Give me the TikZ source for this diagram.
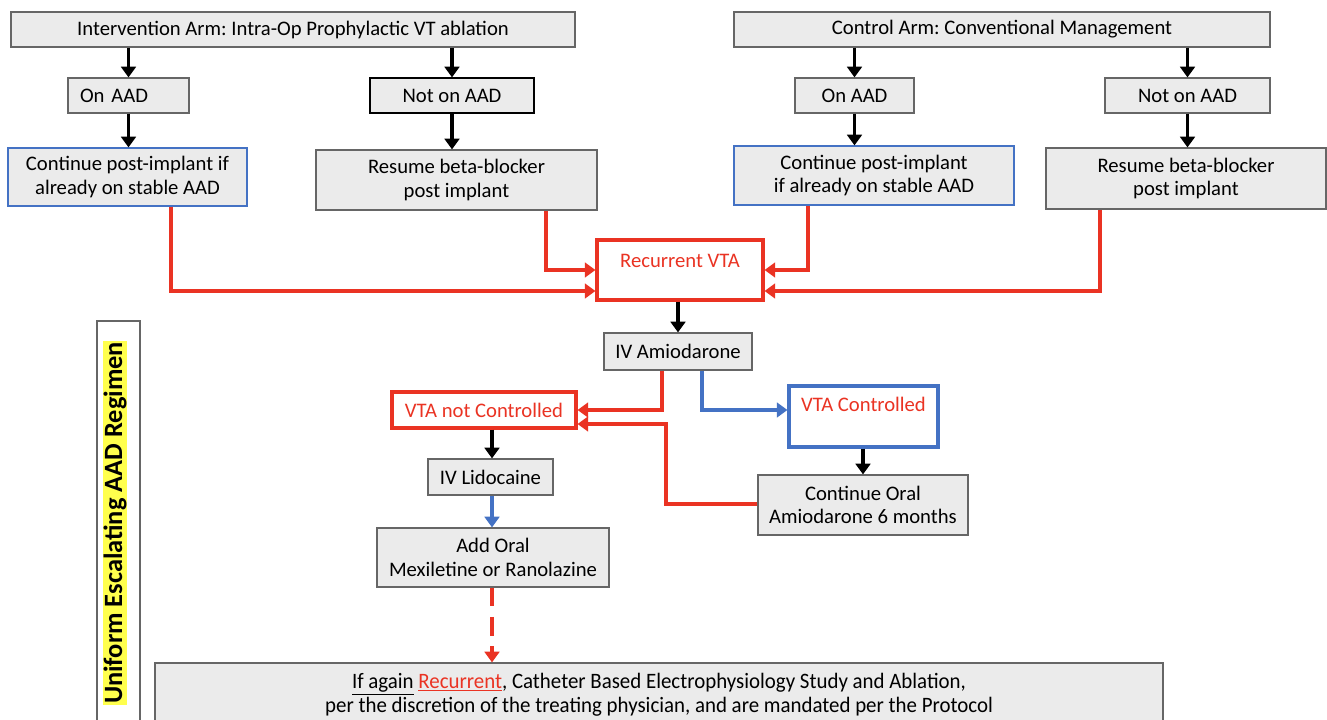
\documentclass[tikz,border=0pt]{standalone}
\usepackage{fontspec}
\setmainfont{Carlito}
\newfontfamily\condfont[FakeStretch=0.95]{Carlito}
\usetikzlibrary{arrows.meta,calc}
\frenchspacing
\definecolor{rd}{HTML}{EA3323}
\definecolor{bl}{HTML}{4472C4}
\definecolor{gf}{HTML}{EBEBEB}
\definecolor{gb}{HTML}{666666}
\definecolor{hl}{HTML}{FFFF4D}
\newcommand\bx[7]{\node[#2, minimum width={(#5-#3)*0.75pt}, minimum height={(#6-#4)*0.75pt}] (#1) at ({(#3+#5)/2},{(#4+#6)/2}) {#7};}
\tikzset{
  gbox/.style={draw=gb, fill=gf, line width=0.9pt, inner sep=0pt, align=center, font=\fontsize{15.5}{17.5}\selectfont},
  bbox/.style={gbox, draw=bl},
  kbox/.style={gbox, draw=black},
  rbox/.style={draw=rd, fill=white, line width=2.3pt, inner sep=0pt, align=center, text=rd, font=\fontsize{15.5}{17.5}\selectfont},
  vcbox/.style={rbox, draw=bl},
  barrow/.style={line width=2.8pt, -{Triangle[width=11pt,length=8pt]}},
  rline/.style={draw=rd, line width=2.6pt, -{Triangle[width=11pt,length=8pt]}},
  bline/.style={draw=bl, line width=2.6pt, -{Triangle[width=11pt,length=8pt]}},
}
\begin{document}
\begin{tikzpicture}[x=0.75pt,y=-0.75pt]
\clip (0,0) rectangle (1327,720);
\fill[white] (0,0) rectangle (1327,720);
% top
\bx{iarm}{gbox}{11}{12}{575}{47}{Intervention Arm: Intra-Op Prophylactic VT ablation}
\bx{carm}{gbox}{734}{12}{1270}{47}{Control Arm: Conventional Management}
\node[gbox, text width={(121-24)*0.75pt}, inner xsep={12*0.75pt}, align=left, minimum height={35*0.75pt}] (oal) at (128.5,95.5) {On AAD};
\bx{nal}{kbox}{370}{78}{534}{113}{Not on AAD}
\bx{oar}{gbox}{795}{78}{914}{113}{On AAD}
\bx{nar}{gbox}{1105}{78}{1270}{113}{Not on AAD}
\bx{cl}{bbox}{8}{148}{247}{206}{Continue post-implant if\\already on stable AAD}
\bx{rl}{gbox}{316}{150}{597}{210}{Resume beta-blocker\\post implant}
\bx{cr}{bbox}{734}{146}{1014}{205}{Continue post-implant\\if already on stable AAD}
\bx{rr}{gbox}{1046}{148}{1326}{209}{Resume beta-blocker\\post implant}
% middle
\bx{rec}{rbox, label={[anchor=north, text=rd, yshift=-8pt, font=\fontsize{15.5}{17.5}\selectfont]north:Recurrent VTA}}{597}{240}{763}{300}{}
\bx{ivam}{gbox}{604}{333}{752}{370}{IV Amiodarone}
\bx{vnc}{rbox}{392}{392}{576}{428}{VTA not Controlled}
\bx{vc}{vcbox, label={[anchor=north, text=rd, yshift=-6pt, font=\fontsize{15.5}{17.5}\selectfont]north:VTA Controlled}}{789}{386}{938}{447}{}
\bx{ivl}{gbox}{428}{459}{553}{495}{IV Lidocaine}
\bx{coa}{gbox}{758}{475}{968}{535}{Continue Oral\\Amiodarone 6 months}
\bx{add}{gbox}{377}{528}{609}{587}{Add Oral\\Mexiletine or Ranolazine}
\bx{bot}{gbox, font=\condfont\fontsize{16.5}{18}\selectfont}{155}{663}{1163}{732}{\rule{0pt}{12pt}\underline{If again} {\color{rd}\underline{Recurrent}}, Catheter Based Electrophysiology Study and Ablation,\\per the discretion of the treating physician, and are mandated per the Protocol\rule[-8pt]{0pt}{0pt}}
% side label
\bx{regbox}{draw=gb, fill=white, line width=0.9pt}{97}{321}{140}{735}{}
\node[rotate=90, fill=hl, inner sep=0.5pt, font=\bfseries\fontsize{19.8}{21}\selectfont] (reg) at (115,523) {Uniform Escalating AAD Regimen};
% arrows top
\draw[barrow] (iarm.south -| oal) -- (oal.north);
\draw[barrow] (iarm.south -| nal) -- (nal.north);
\draw[barrow] (oal.south) -- (cl.north -| oal);
\draw[barrow] (nal.south) -- (rl.north -| nal);
\draw[barrow] (carm.south -| oar) -- (oar.north);
\draw[barrow] (carm.south -| nar) -- (nar.north);
\draw[barrow] (oar.south) -- (cr.north -| oar);
\draw[barrow] (nar.south) -- (rr.north -| nar);
% red to recurrent
\draw[rline] (cl.south -| 171,0) |- (rec.west |- 0,291);
\draw[rline] (rl.south -| 546,0) |- (rec.west |- 0,270);
\draw[rline] (cr.south -| 808,0) |- (rec.east |- 0,270);
\draw[rline] (rr.south -| 1100,0) |- (rec.east |- 0,291);
\draw[barrow] (rec.south -| 678,0) -- (ivam.north -| 678,0);
\draw[rline] (ivam.south -| 662,0) |- (vnc.east |- 0,410);
\draw[bline] (ivam.south -| 702,0) |- (vc.west |- 0,410);
\draw[barrow] (vc.south -| 863,0) -- (coa.north -| 863,0);
\draw[rline] (coa.west |- 0,504) -| (666,424) -- (vnc.east |- 0,424);
\draw[barrow] (vnc.south -| 492,0) -- (ivl.north -| 492,0);
\draw[bline] (ivl.south -| 492,0) -- (add.north -| 492,0);
\draw[rline, dash pattern=on 14pt off 8pt, line width=3pt] (add.south -| 492,0) -- (bot.north -| 492,0);
\end{tikzpicture}
\end{document}
